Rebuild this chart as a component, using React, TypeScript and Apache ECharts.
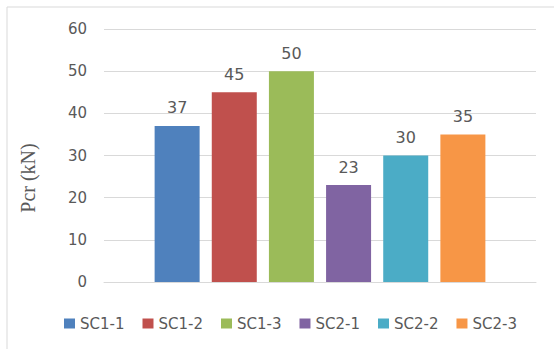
import React, { useEffect, useRef } from "react";
import * as echarts from "echarts";

// Specimen names and their cracking loads Pcr (kN)
const specimens = ["SC1-1", "SC1-2", "SC1-3", "SC2-1", "SC2-2", "SC2-3"];
const pcrValues = [37, 45, 50, 23, 30, 35];
const barColors = ["#4F81BD", "#C0504D", "#9BBB59", "#8064A2", "#4BACC6", "#F79646"];
const yTicks = { min: 0, max: 60, interval: 10 };
const axisTitle = "Pcr (kN)";

const TEXT = "#595959";
const SANS = "DejaVu Sans";

export default function App() {
  const ref = useRef<HTMLDivElement>(null);

  useEffect(() => {
    if (!ref.current) return;
    const chart = echarts.init(ref.current, undefined, { renderer: "svg" });

    chart.setOption({
      animation: false,
      backgroundColor: "#ffffff",
      grid: { left: 104, right: 18, top: 29, bottom: 67, containLabel: false },
      legend: {
        left: 59,
        top: 311,
        icon: "rect",
        itemWidth: 11,
        itemHeight: 10,
        itemGap: 18,
        textStyle: { color: TEXT, fontFamily: SANS, fontSize: 15, padding: [0, 0, 0, 0] },
        data: specimens,
      },
      xAxis: {
        type: "category",
        data: [""],
        axisLine: { show: true, lineStyle: { color: "#d9d9d9", width: 1 } },
        axisTick: { show: false },
        axisLabel: { show: false },
      },
      yAxis: {
        type: "value",
        min: yTicks.min,
        max: yTicks.max,
        interval: yTicks.interval,
        axisLine: { show: false },
        axisTick: { show: false },
        axisLabel: { color: TEXT, fontFamily: SANS, fontSize: 15, margin: 17 },
        splitLine: { lineStyle: { color: "#d9d9d9", width: 1 } },
      },
      graphic: [
        {
          type: "rect",
          shape: { x: 7, y: 7, width: 600, height: 400 },
          style: { fill: "none", stroke: "#d9d9d9", lineWidth: 1 },
          silent: true,
          z: -1,
        },
        {
          type: "text",
          x: 28,
          y: 178,
          rotation: Math.PI / 2,
          style: {
            text: axisTitle,
            fill: TEXT,
            font: '20px "Liberation Serif"',
            textAlign: "center",
            textVerticalAlign: "middle",
          },
        },
      ],
      series: specimens.map((name, i) => ({
        name,
        type: "bar",
        data: [pcrValues[i]],
        barWidth: 45,
        barGap: "27%",
        itemStyle: { color: barColors[i] },
        label: {
          show: true,
          position: "top",
          distance: 10,
          color: TEXT,
          fontFamily: SANS,
          fontSize: 16,
        },
      })),
    });

    return () => chart.dispose();
  }, []);

  return (
    <div
      ref={ref}
      style={{ position: "fixed", left: 0, top: 0, width: 554, height: 349 }}
    />
  );
}
